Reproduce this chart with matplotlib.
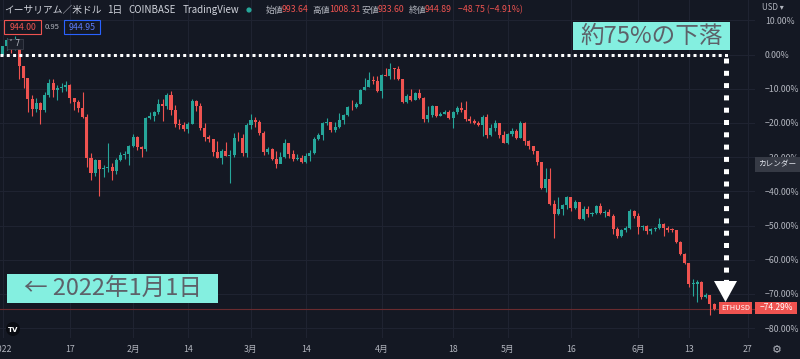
import numpy as np
import pandas as pd
import matplotlib
matplotlib.use("Agg")
import matplotlib.pyplot as plt
from matplotlib.patches import Rectangle, Circle, Polygon

plt.rcParams['font.family'] = ['Noto Sans CJK JP', 'DejaVu Sans']

# ---------------- data (ETH/USD daily, Coinbase, USD) ----------------
base_price = 3676.0          # reference close (0.00 %)
dates = pd.date_range('2022-01-01', '2022-06-19', freq='D')

close = [3766, 3829, 3762, 3794, 3551, 3419, 3193, 3092, 3158, 3083,
         3239, 3374, 3290, 3311, 3332, 3350, 3212, 3164, 3096, 3003,
         2561, 2405, 2537, 2441, 2459, 2464, 2425, 2546, 2598, 2604, 2688,
         2793, 2681, 2660, 2993, 3012, 3057, 3149, 3122, 3239, 3077,
         2926, 2913, 2879, 2930, 3180, 3122, 2885, 2785, 2764, 2623,
         2568, 2640, 2587, 2598, 2778, 2775, 2620, 2920,
         2973, 2948, 2837, 2623, 2664, 2551, 2496, 2573, 2727, 2608,
         2556, 2568, 2518, 2590, 2620, 2772, 2814, 2944, 2950, 2861,
         2897, 2971, 3031, 3108, 3107, 3146, 3297, 3329, 3401, 3386, 3281,
         3455, 3444, 3522, 3521, 3410, 3170, 3232, 3190, 3260, 3212,
         2981, 3030, 3118, 3020, 3040, 3060, 2990, 3058, 3104, 3076,
         2986, 2960, 2937, 2922, 3008, 2808, 2889, 2935, 2815, 2729,
         2826, 2857, 2782, 2940, 2748, 2694, 2636, 2518, 2246, 2342,
         2073, 1962, 2014, 2058, 2146, 2023, 2091, 1913, 2018, 1960,
         1975, 2043, 1972, 1978, 1944, 1803, 1725, 1792, 1812, 1997, 1942,
         1823, 1834, 1776, 1801, 1806, 1859, 1814, 1793, 1789, 1664,
         1530, 1437, 1208, 1208, 1236, 1067, 1087, 993.64, 944.89]

high = [3770, 3855, 3845, 3879, 3845, 3555, 3415, 3243, 3206, 3162,
        3268, 3410, 3413, 3343, 3366, 3387, 3357, 3208, 3189, 3272,
        3039, 2613, 2553, 2546, 2485, 2723, 2514, 2566, 2623, 2637, 2700,
        2818, 2801, 2695, 3000, 3062, 3066, 3200, 3200, 3263, 3282,
        3132, 2979, 2951, 2950, 3200, 3190, 3150, 2935, 2810, 2765,
        2750, 2660, 2740, 2645, 2830, 2845, 2820, 2935,
        3040, 3000, 2975, 2850, 2678, 2668, 2640, 2624, 2770, 2728,
        2654, 2608, 2595, 2616, 2650, 2785, 2830, 2955, 2990, 2955,
        2953, 3045, 3035, 3125, 3190, 3165, 3300, 3420, 3485, 3445, 3440,
        3465, 3530, 3580, 3535, 3555, 3410, 3255, 3300, 3270, 3305,
        3215, 3120, 3130, 3125, 3060, 3080, 3080, 3065, 3125, 3170,
        3180, 3010, 2980, 2960, 3025, 3035, 2925, 2975, 2945, 2850,
        2835, 2890, 2870, 2960, 2950, 2760, 2695, 2640, 2525, 2460,
        2455, 2110, 2140, 2070, 2150, 2146, 2115, 2095, 2045, 2045,
        1985, 2055, 2085, 2000, 2015, 1965, 1825, 1800, 1830, 2015, 2005,
        1970, 1845, 1840, 1810, 1820, 1915, 1860, 1830, 1810, 1795,
        1670, 1545, 1440, 1265, 1250, 1240, 1110, 1090, 1008.31]

low = [3675, 3720, 3695, 3720, 3410, 3320, 3063, 3010, 3063, 2930,
       3055, 3219, 3221, 3192, 3272, 3286, 3155, 3080, 3058, 2990,
       2467, 2330, 2368, 2160, 2362, 2410, 2330, 2390, 2532, 2550, 2485,
       2683, 2650, 2575, 2640, 2978, 2960, 3035, 2960, 3085, 3030,
       2898, 2873, 2857, 2830, 2925, 3070, 2865, 2745, 2735, 2580,
       2565, 2500, 2580, 2300, 2578, 2745, 2580, 2576,
       2870, 2895, 2810, 2600, 2605, 2545, 2460, 2505, 2565, 2560,
       2535, 2544, 2505, 2510, 2535, 2610, 2760, 2760, 2920, 2840,
       2840, 2890, 2925, 3015, 3075, 3103, 3140, 3290, 3330, 3355, 3270,
       3210, 3440, 3412, 3410, 3405, 3150, 3160, 3180, 3190, 3200,
       2955, 2955, 3000, 3005, 3010, 3040, 2985, 2885, 3035, 3055,
       2960, 2940, 2930, 2910, 2795, 2780, 2800, 2850, 2780, 2725,
       2715, 2800, 2770, 2780, 2705, 2665, 2610, 2490, 2230, 2195,
       2055, 1700, 1955, 1950, 2010, 1990, 2015, 1910, 1900, 1925,
       1945, 1960, 1960, 1925, 1940, 1745, 1700, 1710, 1770, 1800, 1915,
       1750, 1785, 1745, 1750, 1780, 1800, 1730, 1765, 1770, 1650,
       1520, 1420, 1175, 1075, 1015, 1050, 1062, 881, 933.60]

y_ticks = [10, 0, -10, -20, -30, -40, -50, -60, -70, -80]
y_tick_labels = ['10.00%', '0.00%', '−10.00%', '−20.00%', '−30.00%', '−40.00%',
                 '−50.00%', '−60.00%', '−70.00%', '−80.00%']
x_tick_dates = ['2022-01-01', '2022-01-17', '2022-02-01', '2022-02-14', '2022-03-01',
                '2022-03-14', '2022-04-01', '2022-04-18', '2022-05-01', '2022-05-16',
                '2022-06-01', '2022-06-13', '2022-06-27']
x_tick_labels = ['2022', '17', '2月', '14', '3月', '14', '4月', '18', '5月', '16',
                 '6月', '13', '27']

# ---------------- styling constants ----------------
W, H = 800, 359
BG = '#141823'
GRID = '#1f2331'
RED = '#ef5350'
GREEN = '#26a69a'
AXTXT = '#b2b5be'
CYAN = '#84efe0'
NOTE = '#5d6169'

X0, PX_DAY = 2.6, 4.21      # pixel of day 0, pixels per day
Y0, PX_PCT = 54.5, 3.42     # pixel of 0 %, pixels per percent
AX_RIGHT, AX_BOTTOM = 755, 338

def dx(px):
    return (px - X0) / PX_DAY

def dy(py):
    return (Y0 - py) / PX_PCT

# ---------------- compute ----------------
n = np.arange(len(dates))
opens = [base_price] + close[:-1]
pct = lambda p: (np.asarray(p, dtype=float) / base_price - 1) * 100
o, h, l, c = pct(opens), pct(high), pct(low), pct(close)
cols = np.where(c >= o, GREEN, RED)

fig = plt.figure(figsize=(W / 100, H / 100), dpi=100, facecolor=BG)
ax = fig.add_axes([0, 1 - AX_BOTTOM / H, AX_RIGHT / W, AX_BOTTOM / H], facecolor=BG)
ax.set_xlim(dx(0), dx(AX_RIGHT))
ax.set_ylim(dy(AX_BOTTOM), dy(0))

ax.vlines(n, l, h, colors=cols, lw=0.8, zorder=3)
ax.bar(n, np.maximum(np.abs(c - o), 0.2), bottom=np.minimum(o, c), width=0.72,
       color=cols, linewidth=0, zorder=4)

ax.axhline(c[-1], color='#6a2b2f', lw=0.8, zorder=2)

xt = [(pd.Timestamp(d) - dates[0]).days for d in x_tick_dates]
ax.set_xticks(xt)
ax.set_xticklabels(x_tick_labels)
ax.set_yticks(y_ticks)
ax.set_yticklabels(y_tick_labels)
ax.yaxis.tick_right()
ax.tick_params(axis='y', length=0, pad=7, labelsize=6.3, labelcolor=AXTXT)
ax.tick_params(axis='x', length=0, pad=5, labelsize=6.3, labelcolor=AXTXT)
ax.grid(True, color=GRID, lw=0.8, zorder=0)
for s in ax.spines.values():
    s.set_visible(False)

# ---------------- overlay in pixel coordinates ----------------
ov = fig.add_axes([0, 0, 1, 1], zorder=10)
ov.set_xlim(0, W)
ov.set_ylim(H, 0)
ov.axis('off')
ov.patch.set_alpha(0)

# dotted guide lines and arrow
ov.plot([0, 728], [Y0, Y0], color='white', lw=2.16, linestyle=(0, (1, 1.1)),
        solid_capstyle='butt', dash_capstyle='butt')
ov.plot([725.5, 725.5], [58, 281], color='white', lw=3.6, linestyle=(0, (1, 1.46)),
        dash_capstyle='butt')
ov.add_patch(Polygon([(714, 281), (737, 281), (725.5, 302)], closed=True,
                     fc='white', ec='none'))

# annotation boxes
ov.add_patch(Rectangle((573, 22), 157, 28, fc=CYAN, ec='none'))
ov.text(651.5, 36.5, '約75%の下落', fontsize=17, color=NOTE, ha='center', va='center')
ov.add_patch(Rectangle((7, 274), 211, 29, fc=CYAN, ec='none'))
ov.text(112.5, 289, '← 2022年1月1日', fontsize=17, color=NOTE, ha='center', va='center')

# header
hdr = dict(fontsize=7, va='center', color='#d1d4dc')
ov.text(4, 10, 'イーサリアム／米ドル', **hdr)
ov.text(107, 10, '1日', **hdr)
ov.text(128, 10, 'COINBASE', **hdr)
ov.text(183, 10, 'TradingView', **hdr)
ov.add_patch(Circle((249, 10), 2.6, fc=GREEN, ec='none'))
small = dict(fontsize=6.3, va='center')
for xl, lab, xv, val in [(266, '始値', 282, '993.64'), (312, '高値', 329, '1008.31'),
                         (362, '安値', 378, '933.60'), (409, '終値', 425, '944.89')]:
    ov.text(xl, 10, lab, color=AXTXT, **small)
    ov.text(xv, 10, val, color=RED, **small)
ov.text(458, 10, '−48.75 (−4.91%)', color=RED, **small)

ov.add_patch(Rectangle((4, 20), 37, 14, fc='none', ec=RED, lw=0.8))
ov.text(22.5, 27, '944.00', color=RED, ha='center', **small)
ov.text(52, 27, '0.95', color=AXTXT, ha='center', fontsize=5.5, va='center')
ov.add_patch(Rectangle((64, 20), 36, 14, fc='none', ec='#2962ff', lw=0.8))
ov.text(82, 27, '944.95', color='#5b7cfa', ha='center', **small)
ov.add_patch(Rectangle((7, 39), 16, 10, fc='#1c202b', ec='#3a3e4a', lw=0.6))
ov.text(15, 44, '˅ 7', color=AXTXT, ha='center', fontsize=5.5, va='center',
        family=['DejaVu Sans'])

# price axis extras
ov.text(762, 8, 'USD ▾', color=AXTXT, fontsize=5.8, va='center')
ov.add_patch(Rectangle((755, 157), 45, 15, fc='#363a45', ec='none'))
ov.text(777.5, 164.5, 'カレンダー', color='#e0e3eb', fontsize=5.5, ha='center', va='center')
ov.add_patch(Rectangle((719, 302), 33, 12, fc=RED, ec='none'))
ov.text(735.5, 308, 'ETHUSD', color='white', fontsize=5.3, ha='center', va='center')
ov.add_patch(Rectangle((755, 302), 42, 12, fc=RED, ec='none'))
ov.text(776, 308, '−74.29%', color='white', fontsize=6, ha='center', va='center')

# logo and settings
ov.add_patch(Circle((13, 329), 7, fc='#0a0c12', ec='none'))
ov.text(13, 329.5, 'TV', color='white', fontsize=5, fontweight='bold', ha='center',
        va='center', family=['DejaVu Sans'])
ov.text(777, 350, '⚙', color=AXTXT, fontsize=8, ha='center', va='center',
        family=['DejaVu Sans'])

fig.savefig('out.png', dpi=100, facecolor=BG)
